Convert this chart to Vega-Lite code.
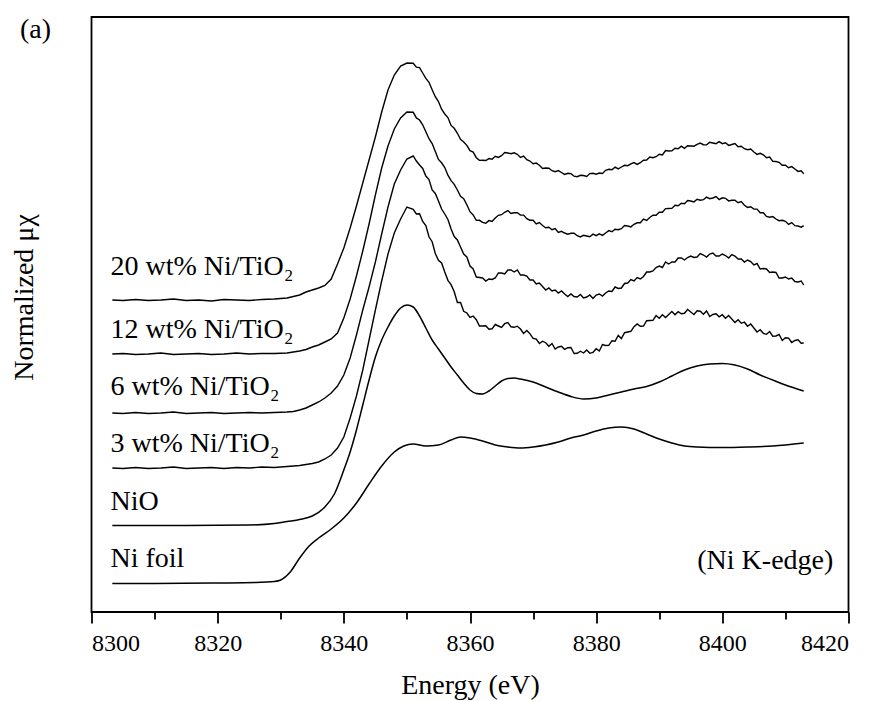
{
  "$schema": "https://vega.github.io/schema/vega-lite/v6.json",
  "width": 757,
  "height": 595,
  "autosize": {"type": "none"},
  "padding": {"left": 91.5, "top": 17, "right": 25.5, "bottom": 89},
  "background": "white",
  "title": {
    "text": "(a)", "anchor": "start", "frame": "group", "dx": -71.5, "dy": 49,
    "baseline": "alphabetic", "offset": 0, "font": "Liberation Serif",
    "fontSize": 28, "fontWeight": "normal", "color": "black"
  },
  "config": {
    "view": {"stroke": "black", "strokeWidth": 1.8},
    "font": "Liberation Serif"
  },
  "datasets": {
    "w20": [
      {"e":8303.3,"y":3.12},{"e":8305,"y":3.115},{"e":8307,"y":3.125},{"e":8309,"y":3.115},{"e":8311,"y":3.12},{"e":8313,"y":3.13},{"e":8315,"y":3.115},{"e":8317,"y":3.12},{"e":8319,"y":3.11},{"e":8321,"y":3.125},{"e":8323,"y":3.12},{"e":8325,"y":3.115},{"e":8327,"y":3.125},{"e":8329,"y":3.13},{"e":8331,"y":3.14},{"e":8332,"y":3.155},{"e":8333,"y":3.17},{"e":8334,"y":3.20},{"e":8335,"y":3.22},{"e":8336,"y":3.24},{"e":8337,"y":3.265},{"e":8338,"y":3.33},{"e":8339,"y":3.48},{"e":8340,"y":3.64},{"e":8341,"y":3.84},{"e":8342,"y":4.06},{"e":8343,"y":4.29},{"e":8344,"y":4.52},{"e":8345,"y":4.75},{"e":8346,"y":5.00},{"e":8347,"y":5.22},{"e":8348,"y":5.37},{"e":8349,"y":5.46},{"e":8350,"y":5.49},
      {"e":8351,"y":5.487},{"e":8351.5,"y":5.448},{"e":8352,"y":5.444},{"e":8352.5,"y":5.39},{"e":8353,"y":5.336},{"e":8353.5,"y":5.297},{"e":8354,"y":5.223},{"e":8354.5,"y":5.153},{"e":8355,"y":5.104},{"e":8355.5,"y":5.028},{"e":8356,"y":4.98},{"e":8356.5,"y":4.944},{"e":8357,"y":4.866},{"e":8357.5,"y":4.837},{"e":8358,"y":4.787},{"e":8358.5,"y":4.726},{"e":8359,"y":4.70},{"e":8359.5,"y":4.667},{"e":8360,"y":4.613},{"e":8360.5,"y":4.599},{"e":8361,"y":4.543},{"e":8361.5,"y":4.516},{"e":8362,"y":4.517},{"e":8362.5,"y":4.515},{"e":8363,"y":4.534},{"e":8363.5,"y":4.528},{"e":8364,"y":4.557},{"e":8364.5,"y":4.546},{"e":8365,"y":4.563},{"e":8365.5,"y":4.594},{"e":8366,"y":4.59},{"e":8366.5,"y":4.583},{"e":8367,"y":4.592},{"e":8367.5,"y":4.577},{"e":8368,"y":4.546},{"e":8368.5,"y":4.559},{"e":8369,"y":4.523},{"e":8369.5,"y":4.51},{"e":8370,"y":4.483},{"e":8370.5,"y":4.489},{"e":8371,"y":4.467},{"e":8371.5,"y":4.436},{"e":8372,"y":4.44},{"e":8372.5,"y":4.437},{"e":8373,"y":4.413},{"e":8373.5,"y":4.403},{"e":8374,"y":4.414},{"e":8374.5,"y":4.395},{"e":8375,"y":4.376},{"e":8375.5,"y":4.387},{"e":8376,"y":4.384},{"e":8376.5,"y":4.358},{"e":8377,"y":4.353},{"e":8377.5,"y":4.367},{"e":8378,"y":4.365},{"e":8378.5,"y":4.356},{"e":8379,"y":4.384},{"e":8379.5,"y":4.387},{"e":8380,"y":4.378},{"e":8380.5,"y":4.39},{"e":8381,"y":4.386},{"e":8381.5,"y":4.417},{"e":8382,"y":4.427},{"e":8382.5,"y":4.423},{"e":8383,"y":4.449},{"e":8383.5,"y":4.431},{"e":8384,"y":4.45},{"e":8384.5,"y":4.467},{"e":8385,"y":4.463},{"e":8385.5,"y":4.482},{"e":8386,"y":4.494},{"e":8386.5,"y":4.476},{"e":8387,"y":4.493},{"e":8387.5,"y":4.517},{"e":8388,"y":4.52},{"e":8388.5,"y":4.549},{"e":8389,"y":4.543},{"e":8389.5,"y":4.553},{"e":8390,"y":4.577},{"e":8390.5,"y":4.571},{"e":8391,"y":4.614},{"e":8391.5,"y":4.61},{"e":8392,"y":4.613},{"e":8392.5,"y":4.637},{"e":8393,"y":4.633},{"e":8393.5,"y":4.659},{"e":8394,"y":4.636},{"e":8394.5,"y":4.662},{"e":8395,"y":4.66},{"e":8395.5,"y":4.658},{"e":8396,"y":4.677},{"e":8396.5,"y":4.689},{"e":8397,"y":4.673},{"e":8397.5,"y":4.671},{"e":8398,"y":4.697},{"e":8398.5,"y":4.69},{"e":8399,"y":4.683},{"e":8399.5,"y":4.704},{"e":8400,"y":4.683},{"e":8400.5,"y":4.692},{"e":8401,"y":4.666},{"e":8401.5,"y":4.675},{"e":8402,"y":4.684},{"e":8402.5,"y":4.653},{"e":8403,"y":4.657},{"e":8403.5,"y":4.633},{"e":8404,"y":4.623},{"e":8404.5,"y":4.629},{"e":8405,"y":4.60},{"e":8405.5,"y":4.576},{"e":8406,"y":4.587},{"e":8406.5,"y":4.572},{"e":8407,"y":4.543},{"e":8407.5,"y":4.549},{"e":8408,"y":4.506},{"e":8408.5,"y":4.505},{"e":8409,"y":4.497},{"e":8409.5,"y":4.468},{"e":8410,"y":4.467},{"e":8410.5,"y":4.443},{"e":8411,"y":4.454},{"e":8411.5,"y":4.43},{"e":8412,"y":4.406},{"e":8412.5,"y":4.412},{"e":8412.9,"y":4.383}
    ],
    "w12": [
      {"e":8303.3,"y":2.58},{"e":8305,"y":2.585},{"e":8307,"y":2.575},{"e":8309,"y":2.58},{"e":8311,"y":2.59},{"e":8313,"y":2.575},{"e":8315,"y":2.58},{"e":8317,"y":2.585},{"e":8319,"y":2.575},{"e":8321,"y":2.58},{"e":8323,"y":2.59},{"e":8325,"y":2.58},{"e":8327,"y":2.585},{"e":8329,"y":2.585},{"e":8331,"y":2.59},{"e":8332,"y":2.60},{"e":8333,"y":2.61},{"e":8334,"y":2.625},{"e":8335,"y":2.65},{"e":8336,"y":2.67},{"e":8337,"y":2.70},{"e":8338,"y":2.73},{"e":8339,"y":2.79},{"e":8340,"y":2.94},{"e":8341,"y":3.13},{"e":8342,"y":3.36},{"e":8343,"y":3.61},{"e":8344,"y":3.88},{"e":8345,"y":4.17},{"e":8346,"y":4.44},{"e":8347,"y":4.66},{"e":8348,"y":4.83},{"e":8349,"y":4.94},{"e":8350,"y":5.00},
      {"e":8351,"y":4.997},{"e":8351.5,"y":4.941},{"e":8352,"y":4.92},{"e":8352.5,"y":4.872},{"e":8353,"y":4.803},{"e":8353.5,"y":4.733},{"e":8354,"y":4.684},{"e":8354.5,"y":4.605},{"e":8355,"y":4.526},{"e":8355.5,"y":4.492},{"e":8356,"y":4.444},{"e":8356.5,"y":4.368},{"e":8357,"y":4.313},{"e":8357.5,"y":4.277},{"e":8358,"y":4.22},{"e":8358.5,"y":4.156},{"e":8359,"y":4.134},{"e":8359.5,"y":4.072},{"e":8360,"y":4.003},{"e":8360.5,"y":3.97},{"e":8361,"y":3.916},{"e":8361.5,"y":3.917},{"e":8362,"y":3.897},{"e":8362.5,"y":3.888},{"e":8363,"y":3.914},{"e":8363.5,"y":3.906},{"e":8364,"y":3.94},{"e":8364.5,"y":3.967},{"e":8365,"y":3.973},{"e":8365.5,"y":3.997},{"e":8366,"y":4.014},{"e":8366.5,"y":3.986},{"e":8367,"y":3.993},{"e":8367.5,"y":3.992},{"e":8368,"y":3.97},{"e":8368.5,"y":3.969},{"e":8369,"y":3.933},{"e":8369.5,"y":3.918},{"e":8370,"y":3.917},{"e":8370.5,"y":3.881},{"e":8371,"y":3.894},{"e":8371.5,"y":3.865},{"e":8372,"y":3.843},{"e":8372.5,"y":3.847},{"e":8373,"y":3.823},{"e":8373.5,"y":3.834},{"e":8374,"y":3.796},{"e":8374.5,"y":3.807},{"e":8375,"y":3.79},{"e":8375.5,"y":3.778},{"e":8376,"y":3.787},{"e":8376.5,"y":3.789},{"e":8377,"y":3.763},{"e":8377.5,"y":3.751},{"e":8378,"y":3.767},{"e":8378.5,"y":3.76},{"e":8379,"y":3.753},{"e":8379.5,"y":3.779},{"e":8380,"y":3.763},{"e":8380.5,"y":3.782},{"e":8381,"y":3.766},{"e":8381.5,"y":3.79},{"e":8382,"y":3.814},{"e":8382.5,"y":3.803},{"e":8383,"y":3.827},{"e":8383.5,"y":3.823},{"e":8384,"y":3.833},{"e":8384.5,"y":3.864},{"e":8385,"y":3.86},{"e":8385.5,"y":3.851},{"e":8386,"y":3.877},{"e":8386.5,"y":3.892},{"e":8387,"y":3.893},{"e":8387.5,"y":3.929},{"e":8388,"y":3.916},{"e":8388.5,"y":3.945},{"e":8389,"y":3.967},{"e":8389.5,"y":3.968},{"e":8390,"y":3.997},{"e":8390.5,"y":3.998},{"e":8391,"y":4.034},{"e":8391.5,"y":4.035},{"e":8392,"y":4.036},{"e":8392.5,"y":4.067},{"e":8393,"y":4.063},{"e":8393.5,"y":4.087},{"e":8394,"y":4.083},{"e":8394.5,"y":4.114},{"e":8395,"y":4.11},{"e":8395.5,"y":4.101},{"e":8396,"y":4.127},{"e":8396.5,"y":4.118},{"e":8397,"y":4.123},{"e":8397.5,"y":4.149},{"e":8398,"y":4.133},{"e":8398.5,"y":4.14},{"e":8399,"y":4.154},{"e":8399.5,"y":4.124},{"e":8400,"y":4.142},{"e":8400.5,"y":4.137},{"e":8401,"y":4.111},{"e":8401.5,"y":4.118},{"e":8402,"y":4.117},{"e":8402.5,"y":4.093},{"e":8403,"y":4.104},{"e":8403.5,"y":4.068},{"e":8404,"y":4.046},{"e":8404.5,"y":4.052},{"e":8405,"y":4.03},{"e":8405.5,"y":4.029},{"e":8406,"y":3.993},{"e":8406.5,"y":3.992},{"e":8407,"y":3.956},{"e":8407.5,"y":3.948},{"e":8408,"y":3.954},{"e":8408.5,"y":3.93},{"e":8409,"y":3.913},{"e":8409.5,"y":3.917},{"e":8410,"y":3.907},{"e":8410.5,"y":3.876},{"e":8411,"y":3.894},{"e":8411.5,"y":3.863},{"e":8412,"y":3.86},{"e":8412.5,"y":3.848},{"e":8412.9,"y":3.864}
    ],
    "w6": [
      {"e":8303.3,"y":1.99},{"e":8305,"y":1.985},{"e":8307,"y":1.995},{"e":8309,"y":1.985},{"e":8311,"y":1.99},{"e":8313,"y":2.00},{"e":8315,"y":1.985},{"e":8317,"y":1.99},{"e":8319,"y":1.995},{"e":8321,"y":1.985},{"e":8323,"y":1.99},{"e":8325,"y":1.995},{"e":8327,"y":1.99},{"e":8329,"y":1.995},{"e":8331,"y":2.00},{"e":8332,"y":2.005},{"e":8333,"y":2.02},{"e":8334,"y":2.04},{"e":8335,"y":2.07},{"e":8336,"y":2.10},{"e":8337,"y":2.14},{"e":8338,"y":2.19},{"e":8339,"y":2.26},{"e":8340,"y":2.37},{"e":8341,"y":2.54},{"e":8342,"y":2.77},{"e":8343,"y":3.02},{"e":8344,"y":3.25},{"e":8345,"y":3.50},{"e":8346,"y":3.78},{"e":8347,"y":4.05},{"e":8348,"y":4.28},{"e":8349,"y":4.42},{"e":8350,"y":4.53},
      {"e":8351,"y":4.56},{"e":8351.5,"y":4.51},{"e":8352,"y":4.47},{"e":8352.5,"y":4.435},{"e":8353,"y":4.36},{"e":8353.5,"y":4.325},{"e":8354,"y":4.22},{"e":8354.5,"y":4.185},{"e":8355,"y":4.11},{"e":8355.5,"y":4.03},{"e":8356,"y":3.98},{"e":8356.5,"y":3.925},{"e":8357,"y":3.83},{"e":8357.5,"y":3.755},{"e":8358,"y":3.72},{"e":8358.5,"y":3.65},{"e":8359,"y":3.58},{"e":8359.5,"y":3.55},{"e":8360,"y":3.46},{"e":8360.5,"y":3.43},{"e":8361,"y":3.35},{"e":8361.5,"y":3.345},{"e":8362,"y":3.34},{"e":8362.5,"y":3.31},{"e":8363,"y":3.33},{"e":8363.5,"y":3.325},{"e":8364,"y":3.34},{"e":8364.5,"y":3.39},{"e":8365,"y":3.39},{"e":8365.5,"y":3.38},{"e":8366,"y":3.42},{"e":8366.5,"y":3.42},{"e":8367,"y":3.40},{"e":8367.5,"y":3.42},{"e":8368,"y":3.37},{"e":8368.5,"y":3.37},{"e":8369,"y":3.36},{"e":8369.5,"y":3.32},{"e":8370,"y":3.32},{"e":8370.5,"y":3.28},{"e":8371,"y":3.29},{"e":8371.5,"y":3.255},{"e":8372,"y":3.22},{"e":8372.5,"y":3.24},{"e":8373,"y":3.21},{"e":8373.5,"y":3.22},{"e":8374,"y":3.19},{"e":8374.5,"y":3.21},{"e":8375,"y":3.18},{"e":8375.5,"y":3.155},{"e":8376,"y":3.18},{"e":8376.5,"y":3.155},{"e":8377,"y":3.15},{"e":8377.5,"y":3.175},{"e":8378,"y":3.14},{"e":8378.5,"y":3.15},{"e":8379,"y":3.17},{"e":8379.5,"y":3.135},{"e":8380,"y":3.17},{"e":8380.5,"y":3.18},{"e":8381,"y":3.16},{"e":8381.5,"y":3.19},{"e":8382,"y":3.21},{"e":8382.5,"y":3.205},{"e":8383,"y":3.25},{"e":8383.5,"y":3.235},{"e":8384,"y":3.24},{"e":8384.5,"y":3.285},{"e":8385,"y":3.29},{"e":8385.5,"y":3.325},{"e":8386,"y":3.31},{"e":8386.5,"y":3.345},{"e":8387,"y":3.33},{"e":8387.5,"y":3.355},{"e":8388,"y":3.40},{"e":8388.5,"y":3.40},{"e":8389,"y":3.41},{"e":8389.5,"y":3.445},{"e":8390,"y":3.46},{"e":8390.5,"y":3.445},{"e":8391,"y":3.50},{"e":8391.5,"y":3.48},{"e":8392,"y":3.50},{"e":8392.5,"y":3.50},{"e":8393,"y":3.54},{"e":8393.5,"y":3.54},{"e":8394,"y":3.52},{"e":8394.5,"y":3.545},{"e":8395,"y":3.56},{"e":8395.5,"y":3.545},{"e":8396,"y":3.55},{"e":8396.5,"y":3.585},{"e":8397,"y":3.57},{"e":8397.5,"y":3.55},{"e":8398,"y":3.58},{"e":8398.5,"y":3.59},{"e":8399,"y":3.56},{"e":8399.5,"y":3.56},{"e":8400,"y":3.58},{"e":8400.5,"y":3.565},{"e":8401,"y":3.54},{"e":8401.5,"y":3.575},{"e":8402,"y":3.56},{"e":8402.5,"y":3.53},{"e":8403,"y":3.53},{"e":8403.5,"y":3.50},{"e":8404,"y":3.52},{"e":8404.5,"y":3.505},{"e":8405,"y":3.47},{"e":8405.5,"y":3.485},{"e":8406,"y":3.43},{"e":8406.5,"y":3.435},{"e":8407,"y":3.43},{"e":8407.5,"y":3.395},{"e":8408,"y":3.40},{"e":8408.5,"y":3.395},{"e":8409,"y":3.34},{"e":8409.5,"y":3.34},{"e":8410,"y":3.35},{"e":8410.5,"y":3.33},{"e":8411,"y":3.34},{"e":8411.5,"y":3.305},{"e":8412,"y":3.30},{"e":8412.5,"y":3.31},{"e":8412.9,"y":3.27}
    ],
    "w3": [
      {"e":8303.3,"y":1.44},{"e":8305,"y":1.435},{"e":8307,"y":1.445},{"e":8309,"y":1.435},{"e":8311,"y":1.44},{"e":8313,"y":1.45},{"e":8315,"y":1.435},{"e":8317,"y":1.44},{"e":8319,"y":1.445},{"e":8321,"y":1.435},{"e":8323,"y":1.445},{"e":8325,"y":1.44},{"e":8327,"y":1.45},{"e":8329,"y":1.445},{"e":8331,"y":1.455},{"e":8332,"y":1.46},{"e":8333,"y":1.465},{"e":8334,"y":1.475},{"e":8335,"y":1.485},{"e":8336,"y":1.50},{"e":8337,"y":1.53},{"e":8338,"y":1.57},{"e":8339,"y":1.64},{"e":8340,"y":1.75},{"e":8341,"y":1.94},{"e":8342,"y":2.16},{"e":8343,"y":2.42},{"e":8344,"y":2.72},{"e":8345,"y":3.02},{"e":8346,"y":3.31},{"e":8347,"y":3.58},{"e":8348,"y":3.79},{"e":8349,"y":3.93},{"e":8350,"y":4.05},
      {"e":8351,"y":4.027},{"e":8351.5,"y":3.98},{"e":8352,"y":3.983},{"e":8352.5,"y":3.905},{"e":8353,"y":3.865},{"e":8353.5,"y":3.752},{"e":8354,"y":3.703},{"e":8354.5,"y":3.585},{"e":8355,"y":3.517},{"e":8355.5,"y":3.49},{"e":8356,"y":3.40},{"e":8356.5,"y":3.317},{"e":8357,"y":3.273},{"e":8357.5,"y":3.203},{"e":8358,"y":3.095},{"e":8358.5,"y":3.095},{"e":8359,"y":3.007},{"e":8359.5,"y":2.99},{"e":8360,"y":2.947},{"e":8360.5,"y":2.96},{"e":8361,"y":2.923},{"e":8361.5,"y":2.86},{"e":8362,"y":2.86},{"e":8362.5,"y":2.863},{"e":8363,"y":2.827},{"e":8363.5,"y":2.832},{"e":8364,"y":2.875},{"e":8364.5,"y":2.86},{"e":8365,"y":2.845},{"e":8365.5,"y":2.883},{"e":8366,"y":2.895},{"e":8366.5,"y":2.852},{"e":8367,"y":2.847},{"e":8367.5,"y":2.858},{"e":8368,"y":2.83},{"e":8368.5,"y":2.785},{"e":8369,"y":2.815},{"e":8369.5,"y":2.783},{"e":8370,"y":2.737},{"e":8370.5,"y":2.73},{"e":8371,"y":2.685},{"e":8371.5,"y":2.708},{"e":8372,"y":2.693},{"e":8372.5,"y":2.657},{"e":8373,"y":2.685},{"e":8373.5,"y":2.63},{"e":8374,"y":2.65},{"e":8374.5,"y":2.658},{"e":8375,"y":2.627},{"e":8375.5,"y":2.643},{"e":8376,"y":2.645},{"e":8376.5,"y":2.585},{"e":8377,"y":2.587},{"e":8377.5,"y":2.608},{"e":8378,"y":2.59},{"e":8378.5,"y":2.62},{"e":8379,"y":2.587},{"e":8379.5,"y":2.597},{"e":8380,"y":2.633},{"e":8380.5,"y":2.61},{"e":8381,"y":2.675},{"e":8381.5,"y":2.665},{"e":8382,"y":2.667},{"e":8382.5,"y":2.713},{"e":8383,"y":2.707},{"e":8383.5,"y":2.765},{"e":8384,"y":2.735},{"e":8384.5,"y":2.793},{"e":8385,"y":2.80},{"e":8385.5,"y":2.807},{"e":8386,"y":2.853},{"e":8386.5,"y":2.88},{"e":8387,"y":2.857},{"e":8387.5,"y":2.86},{"e":8388,"y":2.913},{"e":8388.5,"y":2.915},{"e":8389,"y":2.917},{"e":8389.5,"y":2.965},{"e":8390,"y":2.937},{"e":8390.5,"y":2.973},{"e":8391,"y":2.945},{"e":8391.5,"y":2.975},{"e":8392,"y":3.005},{"e":8392.5,"y":2.972},{"e":8393,"y":3.003},{"e":8393.5,"y":2.982},{"e":8394,"y":2.987},{"e":8394.5,"y":3.025},{"e":8395,"y":3.00},{"e":8395.5,"y":2.975},{"e":8396,"y":3.013},{"e":8396.5,"y":3.008},{"e":8397,"y":2.977},{"e":8397.5,"y":3.01},{"e":8398,"y":2.955},{"e":8398.5,"y":2.975},{"e":8399,"y":2.983},{"e":8399.5,"y":2.952},{"e":8400,"y":2.973},{"e":8400.5,"y":2.937},{"e":8401,"y":2.965},{"e":8401.5,"y":2.93},{"e":8402,"y":2.895},{"e":8402.5,"y":2.923},{"e":8403,"y":2.887},{"e":8403.5,"y":2.898},{"e":8404,"y":2.857},{"e":8404.5,"y":2.88},{"e":8405,"y":2.84},{"e":8405.5,"y":2.80},{"e":8406,"y":2.823},{"e":8406.5,"y":2.787},{"e":8407,"y":2.777},{"e":8407.5,"y":2.805},{"e":8408,"y":2.757},{"e":8408.5,"y":2.76},{"e":8409,"y":2.775},{"e":8409.5,"y":2.715},{"e":8410,"y":2.743},{"e":8410.5,"y":2.738},{"e":8411,"y":2.695},{"e":8411.5,"y":2.715},{"e":8412,"y":2.723},{"e":8412.5,"y":2.687},{"e":8412.9,"y":2.69}
    ],
    "nio": [
      {"e":8303.3,"y":0.865},{"e":8315,"y":0.865},{"e":8325,"y":0.87},{"e":8329,"y":0.885},{"e":8331,"y":0.905},{"e":8333,"y":0.925},{"e":8335,"y":0.96},{"e":8337,"y":1.05},{"e":8338.5,"y":1.18},{"e":8340,"y":1.42},{"e":8341,"y":1.60},{"e":8342,"y":1.82},{"e":8343,"y":2.07},{"e":8344,"y":2.32},{"e":8345,"y":2.55},{"e":8346,"y":2.72},{"e":8347,"y":2.85},{"e":8348,"y":2.96},{"e":8349,"y":3.04},{"e":8350,"y":3.07},{"e":8351,"y":3.05},{"e":8352,"y":2.96},{"e":8353,"y":2.84},{"e":8354,"y":2.72},{"e":8355,"y":2.63},{"e":8356,"y":2.54},{"e":8357,"y":2.45},{"e":8358,"y":2.37},{"e":8359,"y":2.29},{"e":8360,"y":2.22},{"e":8361,"y":2.185},{"e":8362,"y":2.18},{"e":8363,"y":2.21},{"e":8364,"y":2.26},{"e":8365,"y":2.31},{"e":8366,"y":2.335},{"e":8367,"y":2.34},{"e":8368,"y":2.33},{"e":8370,"y":2.30},{"e":8372,"y":2.25},{"e":8374,"y":2.20},{"e":8376,"y":2.155},{"e":8378,"y":2.13},{"e":8380,"y":2.14},{"e":8382,"y":2.17},{"e":8384,"y":2.20},{"e":8386,"y":2.23},{"e":8388,"y":2.255},{"e":8390,"y":2.30},{"e":8392,"y":2.36},{"e":8394,"y":2.42},{"e":8396,"y":2.46},{"e":8398,"y":2.48},{"e":8400,"y":2.485},{"e":8402,"y":2.47},{"e":8404,"y":2.43},{"e":8406,"y":2.37},{"e":8408,"y":2.32},{"e":8410,"y":2.27},{"e":8412.9,"y":2.21}
    ],
    "foil": [
      {"e":8303.3,"y":0.285},{"e":8310,"y":0.285},{"e":8320,"y":0.29},{"e":8326,"y":0.295},{"e":8329,"y":0.305},{"e":8330,"y":0.32},{"e":8331.5,"y":0.40},{"e":8333,"y":0.54},{"e":8334.5,"y":0.66},{"e":8336,"y":0.74},{"e":8338,"y":0.83},{"e":8340,"y":0.94},{"e":8342,"y":1.09},{"e":8344,"y":1.28},{"e":8346,"y":1.46},{"e":8348,"y":1.60},{"e":8349.5,"y":1.66},{"e":8351,"y":1.68},{"e":8353,"y":1.66},{"e":8355,"y":1.67},{"e":8357,"y":1.72},{"e":8358.5,"y":1.75},{"e":8360,"y":1.74},{"e":8362,"y":1.71},{"e":8364,"y":1.67},{"e":8366,"y":1.65},{"e":8368,"y":1.64},{"e":8370,"y":1.65},{"e":8372,"y":1.67},{"e":8374,"y":1.70},{"e":8376,"y":1.74},{"e":8378,"y":1.77},{"e":8380,"y":1.81},{"e":8382,"y":1.84},{"e":8384,"y":1.85},{"e":8386,"y":1.83},{"e":8388,"y":1.78},{"e":8390,"y":1.73},{"e":8392,"y":1.69},{"e":8394,"y":1.66},{"e":8396,"y":1.65},{"e":8400,"y":1.645},{"e":8404,"y":1.65},{"e":8408,"y":1.66},{"e":8412.9,"y":1.69}
    ],
    "labels": [
      {"e":8303,"y":3.37,"t":"20 wt% Ni/TiO₂"},
      {"e":8303,"y":2.74,"t":"12 wt% Ni/TiO₂"},
      {"e":8303,"y":2.17,"t":"6 wt% Ni/TiO₂"},
      {"e":8303,"y":1.60,"t":"3 wt% Ni/TiO₂"},
      {"e":8303,"y":1.02,"t":"NiO"},
      {"e":8303,"y":0.45,"t":"Ni foil"}
    ]
  },
  "encoding": {
    "x": {
      "field": "e", "type": "quantitative",
      "scale": {"domain": [8300, 8420], "nice": false, "zero": false},
      "axis": {
        "values": [8300, 8320, 8340, 8360, 8380, 8400, 8420],
        "format": "d", "domain": false, "grid": false,
        "tickSize": 11, "tickWidth": 1.8, "tickColor": "black",
        "labelFont": "Liberation Serif", "labelFontSize": 24, "labelColor": "black",
        "labelPadding": 8,
        "title": "Energy (eV)", "titleFont": "Liberation Serif", "titleFontSize": 28,
        "titleFontWeight": "normal", "titleColor": "black",
        "titleY": 81, "titleBaseline": "alphabetic"
      }
    },
    "y": {
      "field": "y", "type": "quantitative",
      "scale": {"domain": [0, 5.95], "nice": false, "zero": false},
      "axis": {
        "ticks": false, "labels": false, "domain": false, "grid": false,
        "title": "Normalized μχ", "titleFont": "Liberation Serif", "titleFontSize": 28,
        "titleFontWeight": "normal", "titleColor": "black",
        "titleAngle": 270, "titleAlign": "center", "titleBaseline": "alphabetic",
        "titleX": -59, "titleY": 280
      }
    }
  },
  "layer": [
    {
      "layer": [
        {"data": {"name": "w20"}, "mark": {"type": "line", "color": "black", "strokeWidth": 1.4}},
        {"data": {"name": "w12"}, "mark": {"type": "line", "color": "black", "strokeWidth": 1.4}},
        {"data": {"name": "w6"}, "mark": {"type": "line", "color": "black", "strokeWidth": 1.4}},
        {"data": {"name": "w3"}, "mark": {"type": "line", "color": "black", "strokeWidth": 1.4}},
        {"data": {"name": "nio"}, "mark": {"type": "line", "color": "black", "strokeWidth": 1.5, "interpolate": "monotone"}},
        {"data": {"name": "foil"}, "mark": {"type": "line", "color": "black", "strokeWidth": 1.5, "interpolate": "monotone"}},
        {
          "data": {"name": "labels"},
          "mark": {"type": "text", "align": "left", "baseline": "alphabetic", "font": "Liberation Serif", "fontSize": 28, "color": "black"},
          "encoding": {"text": {"field": "t"}}
        }
      ]
    },
    {
      "data": {"values": [{"e": 8417.6, "y": 0.43, "t": "(Ni K-edge)"}]},
      "mark": {"type": "text", "align": "right", "baseline": "alphabetic", "font": "Liberation Serif", "fontSize": 28, "color": "black"},
      "encoding": {
        "x": {
          "field": "e", "type": "quantitative",
          "scale": {"domain": [8300, 8420], "nice": false, "zero": false},
          "axis": {
            "orient": "bottom", "values": [8310, 8330, 8350, 8370, 8390, 8410],
            "labels": false, "domain": false, "grid": false, "title": null,
            "tickSize": 7, "tickWidth": 1.8, "tickColor": "black"
          }
        },
        "text": {"field": "t"}
      }
    }
  ],
  "resolve": {"axis": {"x": "independent"}}
}
